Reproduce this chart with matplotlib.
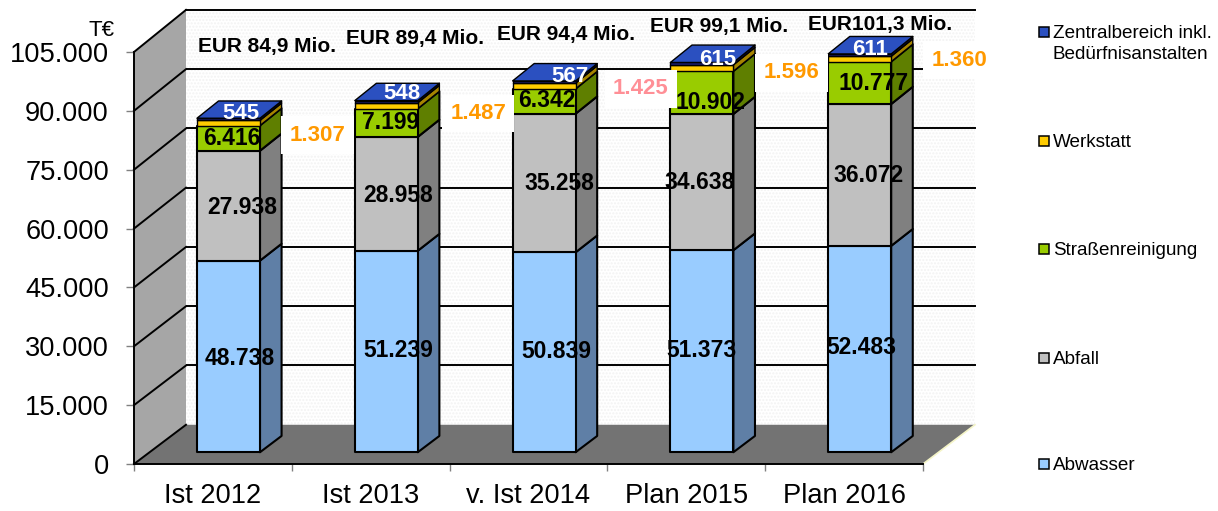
import matplotlib
matplotlib.use("Agg")
import matplotlib.pyplot as plt
from matplotlib.patches import Polygon, Rectangle

plt.rcParams["font.family"] = ["Liberation Sans", "DejaVu Sans"]

# ---- Data ----
categories = ["Ist 2012", "Ist 2013", "v. Ist 2014", "Plan 2015", "Plan 2016"]
abwasser = [48738, 51239, 50839, 51373, 52483]
abfall = [27938, 28958, 35258, 34638, 36072]
strasse = [6416, 7199, 6342, 10902, 10777]
werkstatt = [1307, 1487, 1425, 1596, 1360]
zentral = [545, 548, 567, 615, 611]
totals = ["EUR 84,9 Mio.", "EUR 89,4 Mio.", "EUR 94,4 Mio.", "EUR 99,1 Mio.", "EUR101,3 Mio."]
y_ticks = [0, 15000, 30000, 45000, 60000, 75000, 90000, 105000]
legend_labels = ["Zentralbereich inkl.\nBedürfnisanstalten", "Werkstatt",
                 "Straßenreinigung", "Abfall", "Abwasser"]

series = [abwasser, abfall, strasse, werkstatt, zentral]
front_colors = ["#99CCFF", "#C0C0C0", "#99CC00", "#FFCC00", "#1F1F70"]
side_colors = ["#5F7FA6", "#808080", "#5F7F00", "#A68400", "#14144A"]
top_color = "#2B50C0"
legend_colors = ["#2B50C0", "#FFCC00", "#99CC00", "#C0C0C0", "#99CCFF"]

# label nudges in pixels, from the middle of each segment
abw_nudge = [(0, -2), (1, 1), (1, 1), (-11, 1), (-9, 2)]
abf_nudge = [(3, -1), (1, -1), (4, 0), (-13, 0), (-2, 0)]
str_nudge = [(-7, 0), (-7, 1), (-8, 1), (-2, -9), (3, 0)]
top_nudge = [(2, -2), (5, 0), (15, -3), (5, -4), (0, -3)]
eur_nudge = [(28, 56), (18, 47), (11, 31), (6, 21), (10, 14)]
wer_nudge = [(78, -14), (81, -10), (86, -5), (79, -7), (89, -3)]

fig = plt.figure(figsize=(12.18, 5.11), dpi=100)
W, H = 1218.0, 511.0
ax = fig.add_axes([134 / W, 1 - 464 / H, (923 - 134) / W, (464 - 52) / H])
ax.set_xlim(0, 5)
ax.set_ylim(0, 105000)
ax.patch.set_visible(False)

# depth of the floor in data units
DX = 52 / 157.8
DY = 10000
d_front, d_back = 0.3, 0.715
bar_w = 63 / 157.8


def pt(x, v, d):
    # back of the box is drawn slightly taller than the front
    return (x + d * DX, v * (1 + 0.007 * d) + d * DY)


def face(points, color, z, **kw):
    kw.setdefault("edgecolor", "black")
    kw.setdefault("linewidth", 1.5)
    ax.add_patch(Polygon(points, closed=True, facecolor=color, zorder=z,
                         clip_on=False, joinstyle="round", **kw))


# ---- Walls and floor ----
ax.add_patch(Polygon([pt(0, 0, 1), pt(5, 0, 1), pt(5, 105000, 1), pt(0, 105000, 1)],
                     closed=True, facecolor="white", edgecolor="#f2f2f2", hatch=".....",
                     linewidth=0, zorder=0.5, clip_on=False))
face([pt(0, 0, 0), pt(0, 0, 1), pt(0, 105000, 1), pt(0, 105000, 0)], "#A6A6A6", 1,
     edgecolor="none")
face([pt(0, 0, 0), pt(5, 0, 0), pt(5, 0, 1), pt(0, 0, 1)], "#737373", 1.2, edgecolor="none")
ax.plot(*zip(pt(5, 0, 0), pt(5, 0, 1)), color="#F5F5C8", lw=1.2, zorder=1.3, clip_on=False)

for v in y_ticks:
    ax.plot(*zip(pt(0, v, 0), pt(0, v, 1)), color="black", lw=1.4, zorder=1.5, clip_on=False)
    if v > 0:
        ax.plot(*zip(pt(0, v, 1), pt(5, v, 1)), color="black", lw=1.4, zorder=0.8, clip_on=False)

# ---- Bars ----
for i in range(len(categories)):
    x0 = i + 0.5 - bar_w / 2
    x1 = x0 + bar_w
    base = 0
    z = 3 + i
    for j, vals in enumerate(series):
        top = base + vals[i]
        face([pt(x1, base, d_front), pt(x1, base, d_back), pt(x1, top, d_back), pt(x1, top, d_front)],
             side_colors[j], z, linewidth=1.0 if j >= 3 else 1.5)
        face([pt(x0, base, d_front), pt(x1, base, d_front), pt(x1, top, d_front), pt(x0, top, d_front)],
             front_colors[j], z + 0.1, linewidth=1.0 if j >= 3 else 1.5)
        base = top
    face([pt(x0, base, d_front), pt(x1, base, d_front), pt(x1, base, d_back), pt(x0, base, d_back)],
         top_color, z + 0.2, linewidth=1.0)

    # ---- Labels, anchored to the bar ----
    mid_x, _ = pt((x0 + x1) / 2, 0, (d_front + d_back) / 2)
    base = 0
    for vals, nudge in zip([abwasser, abfall, strasse], [abw_nudge, abf_nudge, str_nudge]):
        v = vals[i]
        ax.annotate(f"{v:,}".replace(",", "."),
                    xy=(mid_x, base + v / 2 + d_front * DY), xytext=nudge[i],
                    textcoords="offset pixels", ha="center", va="center",
                    fontsize=16.5, fontweight="bold", color="black", zorder=20,
                    annotation_clip=False)
        base += v
    base += werkstatt[i]
    ax.annotate(str(zentral[i]), xy=(mid_x, base + zentral[i] + 0.5 * DY), xytext=top_nudge[i],
                textcoords="offset pixels", ha="center", va="center", fontsize=16,
                fontweight="bold", color="white", zorder=20, annotation_clip=False)
    ax.annotate(totals[i], xy=(mid_x, base + zentral[i] + d_back * DY), xytext=eur_nudge[i],
                textcoords="offset pixels", ha="center", va="center", fontsize=15,
                fontweight="bold", color="black", zorder=20, annotation_clip=False)
    pink = i == 2
    ax.annotate(f"{werkstatt[i]:,}".replace(",", "."),
                xy=(mid_x, base + d_front * DY), xytext=wer_nudge[i],
                textcoords="offset pixels", ha="center", va="center", fontsize=16,
                fontweight="bold", color="#FF8F96" if pink else "#FF9900", zorder=19,
                annotation_clip=False,
                bbox=dict(facecolor="white", edgecolor="none", pad=6))

# ---- Axes ----
ax.set_yticks(y_ticks)
ax.set_yticklabels([f"{v:,}".replace(",", ".") for v in y_ticks], fontsize=19.6)
ax.set_xticks(range(6))
ax.set_xticklabels([])
ax.set_xticks([i + 0.5 for i in range(5)], minor=True)
ax.set_xticklabels(categories, minor=True, fontsize=19.6)
ax.tick_params(axis="y", length=6, width=1, color="#808080", pad=12)
ax.tick_params(axis="x", which="major", length=5, width=1, color="#808080")
ax.tick_params(axis="x", which="minor", length=0, pad=14)
for s in ["top", "right"]:
    ax.spines[s].set_visible(False)
for s in ["left", "bottom"]:
    ax.spines[s].set_linewidth(1.4)
    ax.spines[s].set_zorder(2)

fig.text(89 / W, 1 - 30 / H, "T€", fontsize=16, ha="left", va="center")

# ---- Legend ----
legend_y = [32, 141, 249, 358, 464]
for lab, col, y in zip(legend_labels, legend_colors, legend_y):
    fig.add_artist(Rectangle((1039 / W, 1 - (y + 5) / H), 10 / W, 10 / H, facecolor=col,
                             edgecolor="black", linewidth=1.1, transform=fig.transFigure))
    fig.text(1053 / W, 1 - (y - 7) / H, lab, fontsize=13.6, ha="left", va="top", linespacing=1.3)

fig.savefig("out.png", dpi=100)
